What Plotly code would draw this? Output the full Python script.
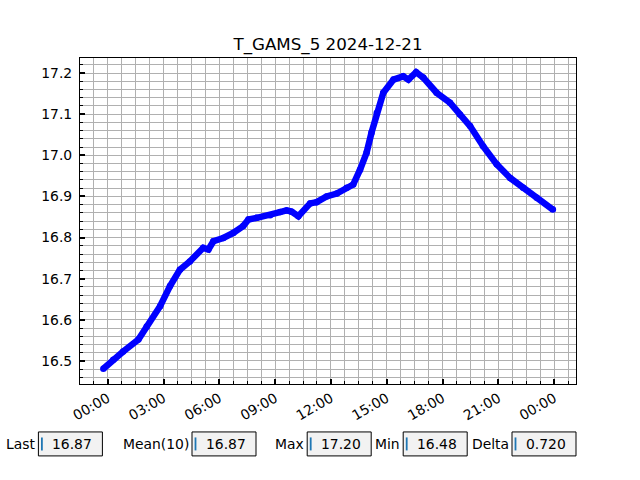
import plotly.graph_objects as go

# ---- data ----
times = [
    "2024-12-20 23:46", "2024-12-21 00:18", "2024-12-21 00:50", "2024-12-21 01:39",
    "2024-12-21 02:06", "2024-12-21 02:49", "2024-12-21 03:21", "2024-12-21 03:53",
    "2024-12-21 04:25", "2024-12-21 05:08", "2024-12-21 05:25", "2024-12-21 05:41",
    "2024-12-21 06:13", "2024-12-21 06:45", "2024-12-21 07:17", "2024-12-21 07:34",
    "2024-12-21 08:01", "2024-12-21 08:44", "2024-12-21 09:16", "2024-12-21 09:37",
    "2024-12-21 09:53", "2024-12-21 10:15", "2024-12-21 10:53", "2024-12-21 11:14",
    "2024-12-21 11:46", "2024-12-21 12:19", "2024-12-21 12:51", "2024-12-21 13:12",
    "2024-12-21 13:34", "2024-12-21 13:55", "2024-12-21 14:11", "2024-12-21 14:28",
    "2024-12-21 14:49", "2024-12-21 15:22", "2024-12-21 15:53", "2024-12-21 16:10",
    "2024-12-21 16:35", "2024-12-21 16:58", "2024-12-21 17:41", "2024-12-21 18:24",
    "2024-12-21 18:56", "2024-12-21 19:29", "2024-12-21 20:11", "2024-12-21 20:55",
    "2024-12-21 21:38", "2024-12-21 22:20", "2024-12-21 23:04", "2024-12-21 23:56",
]
values = [
    16.481, 16.503, 16.523, 16.552,
    16.584, 16.633, 16.682, 16.722,
    16.742, 16.775, 16.771, 16.791,
    16.799, 16.811, 16.828, 16.844,
    16.848, 16.854, 16.862, 16.866,
    16.863, 16.852, 16.883, 16.886,
    16.900, 16.907, 16.921, 16.929,
    16.965, 17.006, 17.055, 17.103,
    17.152, 17.184, 17.192, 17.184,
    17.202, 17.189, 17.152, 17.128,
    17.099, 17.071, 17.022, 16.978,
    16.945, 16.921, 16.897, 16.868,
]
title_text = "T_GAMS_5 2024-12-21"
stat_labels = ["Last", "Mean(10)", "Max", "Min", "Delta"]
stat_texts = ["16.87", "16.87", "17.20", "16.48", "0.720"]

# ---- layout geometry (pixels) ----
W, H = 640, 480
L, R, T, B = 80, 576, 57.6, 384
box_lefts = [38.4, 192, 307.2, 403.2, 512]
box_w = 64
box_top, box_bot = 432, 456


def px(x):
    return (x - L) / (R - L)


def py(y):
    return (B - y) / (B - T)


FONT = "DejaVu Sans"
fig = go.Figure()
fig.add_trace(go.Scatter(
    x=times, y=values, mode="lines+markers",
    line=dict(color="#0000ff", width=6.5),
    marker=dict(color="#0000ff", size=6.5),
    showlegend=False, hoverinfo="skip",
))

grid_col = "#b0b0b0"
fig.update_xaxes(
    type="date",
    range=["2024-12-20 22:30:40", "2024-12-22 01:10:37"],
    tick0="2024-12-21 00:00", dtick=3 * 3600 * 1000, tickformat="%H:%M",
    tickangle=-30, ticks="inside", ticklen=5, tickwidth=2, tickcolor="black",
    showline=True, mirror=True, linecolor="black", linewidth=1,
    showgrid=True, gridcolor=grid_col, gridwidth=1, zeroline=False,
    tickfont=dict(family=FONT, size=13.9, color="black"),
    minor=dict(tick0="2024-12-21 00:00", dtick=45 * 60 * 1000, ticks="inside",
               ticklen=3, tickwidth=1, tickcolor="black",
               showgrid=True, gridcolor=grid_col, gridwidth=1),
)
fig.update_yaxes(
    range=[16.444, 17.2365], tick0=16.5, dtick=0.1, tickformat=".1f",
    ticks="inside", ticklen=5, tickwidth=2, tickcolor="black",
    showline=True, mirror=True, linecolor="black", linewidth=1,
    showgrid=True, gridcolor=grid_col, gridwidth=1, zeroline=False,
    tickfont=dict(family=FONT, size=13.9, color="black"),
    ticklabelstandoff=4,
    minor=dict(tick0=16.5, dtick=0.02, ticks="inside", ticklen=3, tickwidth=1,
               tickcolor="black", showgrid=True, gridcolor=grid_col, gridwidth=1),
)

shapes = []
annotations = []
for lab, txt, bl in zip(stat_labels, stat_texts, box_lefts):
    shapes.append(dict(type="rect", xref="paper", yref="paper",
                       x0=px(bl), x1=px(bl + box_w), y0=py(box_bot), y1=py(box_top),
                       fillcolor="#f2f2f2", line=dict(color="black", width=1), layer="above"))
    shapes.append(dict(type="rect", xref="paper", yref="paper",
                       x0=px(bl + 2.6), x1=px(bl + 4.4), y0=py(450.5), y1=py(437.5),
                       fillcolor="#1f77b4", line=dict(width=0), layer="above"))
    annotations.append(dict(text=lab, xref="paper", yref="paper", x=px(bl - 1.5), y=py(444),
                            xanchor="right", yanchor="middle", showarrow=False,
                            font=dict(family=FONT, size=13.9, color="black")))
    annotations.append(dict(text=txt, xref="paper", yref="paper", x=px(bl + 11.5), y=py(444),
                            xanchor="left", yanchor="middle", showarrow=False,
                            font=dict(family=FONT, size=13.9, color="black")))

fig.update_layout(
    width=W, height=H,
    margin=dict(l=L, r=W - R, t=T, b=H - B, pad=0),
    paper_bgcolor="white", plot_bgcolor="white",
    title=dict(text=title_text, x=0.5, xref="paper", xanchor="center",
               y=(H - 44) / H, yref="container", yanchor="middle",
               font=dict(family=FONT, size=16.7, color="black")),
    shapes=shapes, annotations=annotations,
    font=dict(family=FONT),
)

fig.write_html("out.html", config={"displayModeBar": False},
               post_script="document.body.style.margin='0';document.body.style.overflow='hidden';")
